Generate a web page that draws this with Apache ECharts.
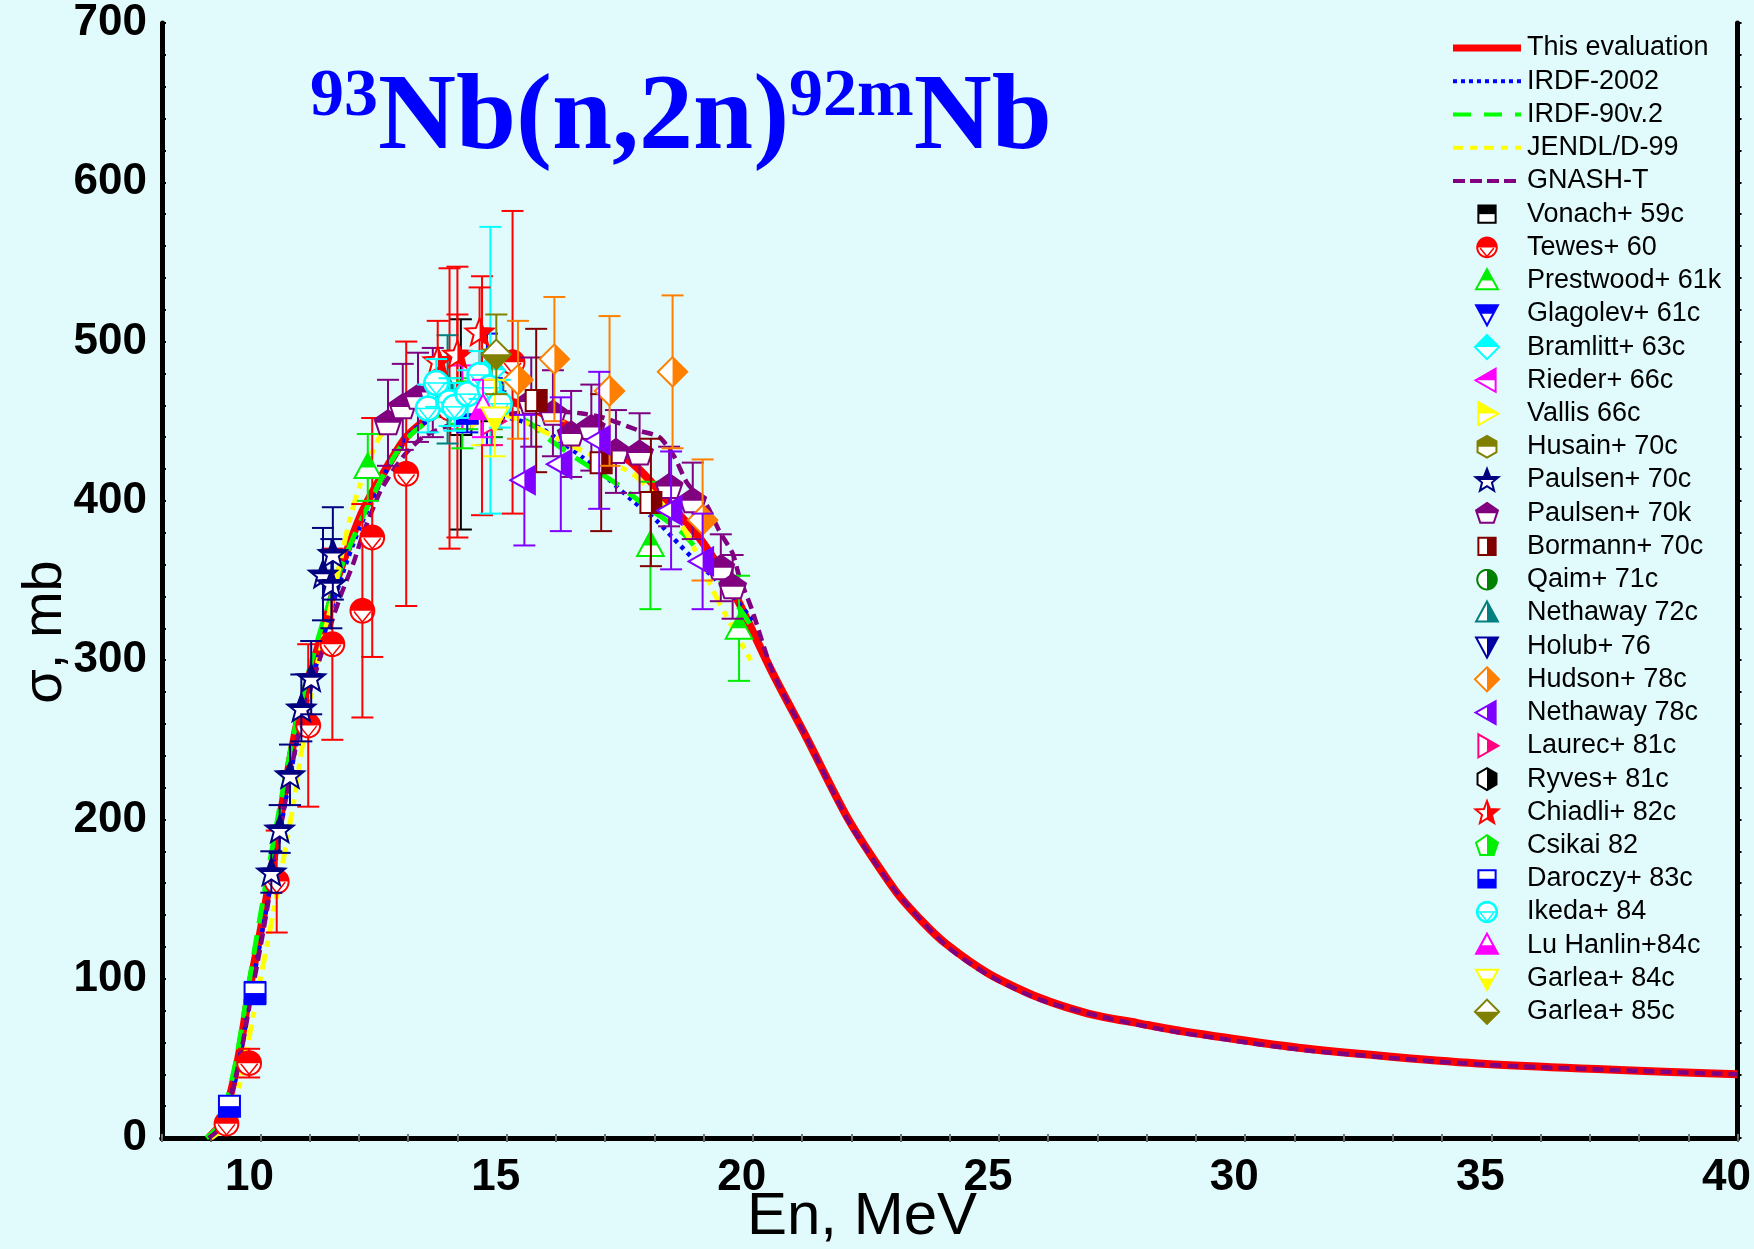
<!DOCTYPE html>
<html>
<head>
<meta charset="utf-8">
<script src="https://cdn.jsdelivr.net/npm/echarts@6/dist/echarts.min.js"></script>
<style>
  html, body { margin: 0; padding: 0; background: #e1fbfc; }
  #chart { width: 1754px; height: 1249px; }
</style>
</head>
<body>
<div id="chart"></div>
<script>
// evaluated curves: [En (MeV), sigma (mb)]
var thisEvaluation = [[8.95,0],[9.04,3],[9.21,9],[9.41,30],[9.58,55],[9.78,94],[9.99,128],[10.19,162],[10.46,212],[10.73,258],[11.0,291],[11.27,318],[11.54,349],[11.81,373],[12.08,394],[12.49,417],[12.96,440],[13.5,454],[14.0,461],[14.5,464],[15.0,463],[15.5,458],[16.0,451],[16.5,443],[17.0,434],[17.5,425],[17.93,412],[18.4,395],[18.91,377],[19.4,354],[19.72,336],[20.4,292],[21.08,252],[21.96,199],[22.9,155],[23.44,136],[23.92,122],[24.8,103],[25.82,88],[26.83,78],[27.84,72],[28.72,67],[31.27,56],[34.9,46.5],[40,40]];
var irdf2002 = [[8.95,0],[9.2,7],[9.4,26],[9.6,54],[9.8,90],[10.0,124],[10.2,158],[10.5,210],[10.8,258],[11.1,293],[11.4,328],[11.7,357],[12.0,382],[12.56,419],[13.1,444],[13.6,453],[14.2,456],[14.8,454],[15.3,450],[15.73,445],[16.07,438],[16.55,427],[17.09,413],[17.56,400],[18.03,388],[18.37,377],[18.78,364],[19.2,352],[19.6,340],[20.0,325]];
var irdf90 = [[8.9,0],[9.1,6],[9.3,22],[9.5,48],[9.7,85],[9.9,122],[10.1,158],[10.4,209],[10.7,257],[11.0,295],[11.3,327],[11.6,355],[11.9,378],[12.2,398],[12.6,422],[13.0,440],[13.5,452],[14.0,459],[14.5,460],[15.0,455],[15.47,449],[15.8,440],[16.5,425],[17.22,411],[17.9,395],[18.57,380],[19.2,356],[19.65,336],[20.0,320]];
var jendlD99 = [[9.0,0],[9.3,8],[9.55,30],[9.78,65],[10.0,100],[10.26,141],[10.66,208],[10.87,250],[11.1,290],[11.4,330],[11.88,396],[12.42,440],[13.0,458],[13.5,462],[14.0,463],[14.5,460],[15.0,454],[15.53,447],[16.5,432],[17.56,417],[18.1,400],[18.63,381],[19.25,340],[19.96,300]];
var gnashT = [[8.95,0],[9.2,7],[9.4,26],[9.6,53],[9.8,87],[10.0,120],[10.12,141],[10.4,193],[10.7,243],[11.0,280],[11.3,310],[11.6,338],[11.9,362],[12.08,379],[12.42,405],[12.69,419],[12.96,430],[13.3,440],[13.8,447],[14.5,452],[15.2,455],[16.0,456],[16.5,455],[16.99,452],[17.7,444],[18.1,440],[18.4,428],[18.67,411],[19.05,398],[19.32,381],[19.59,367],[19.72,353],[19.99,331],[20.4,293],[21.08,252],[21.96,198],[22.9,155],[23.92,121],[24.8,102],[25.82,87],[26.83,78],[27.84,71],[28.72,66],[31.27,55],[34.9,46],[40,40]];

// measurements: [En (MeV), sigma (mb), error (mb)]
var vonach59 = [[14.07,448,66]];
var tewes60 = [[9.31,9,3],[9.77,47,9],[10.33,161,32],[10.97,259,51],[11.46,310,60],[12.07,331,67],[12.27,377,75],[12.96,417,83],[13.84,458,88],[14.0,462,85],[14.5,466,75],[15.12,487,95]];
var prestwood61 = [[12.18,421,21],[14.1,455,22],[17.92,372,40],[19.72,320,33]];
var glagolev61 = [[14.6,470,35]];
var bramlitt63 = [[14.67,482,90]];
var rieder66 = [[14.1,465,20]];
var vallis66 = [[14.5,455,20]];
var husain70 = [[14.7,470,25]];
var paulsen70c = [[10.22,167,13],[10.39,194,15],[10.6,228,19],[10.83,270,21],[11.03,289,23],[11.27,354,29],[11.44,348,28],[11.47,367,29]];
var paulsen70k = [[12.59,449,27],[12.89,459,27],[13.2,465,28],[13.5,468,28],[15.5,462,28],[15.94,455,27],[16.31,442,27],[16.72,446,27],[17.22,431,26],[17.7,430,25],[18.3,409,25],[18.78,400,24],[19.35,358,21],[19.59,346,20]];
var bormann70 = [[15.6,463,45],[16.92,424,43],[17.93,399,40]];
var qaim71 = [[14.7,455,15]];
var nethaway72 = [[13.8,470,34]];
var holub76 = [[14.7,462,12]];
var hudson78 = [[15.23,476,37],[15.97,489,39],[17.09,469,47],[18.37,481,48],[18.98,388,38]];
var nethaway78 = [[15.36,413,41],[16.1,423,42],[16.88,438,43],[18.34,394,37],[18.98,362,30]];
var laurec81 = [[14.7,450,15]];
var ryves81 = [[14.7,460,10]];
var chiadli82 = [[13.6,488,25],[14.0,492,25],[14.45,506,28]];
var csikai82 = [[14.2,460,15]];
var daroczy83 = [[9.37,20,4],[9.89,91,7],[14.2,455,12],[14.7,465,12]];
var ikeda84 = [[13.4,458,15],[13.57,474,15],[13.84,462,15],[13.94,459,15],[14.21,467,15],[14.45,479,15],[14.65,471,15],[14.86,461,15]];
var luHanlin84 = [[14.52,458,18]];
var garlea84 = [[14.76,452,24]];
var garlea85 = [[14.79,492,25]];

var SANS = '"Liberation Sans", Arial, sans-serif';
var SERIF = '"Liberation Serif", "Times New Roman", serif';

var curves = [
  {name: 'This evaluation', data: thisEvaluation, color: '#ff0000', width: 8, dash: 'solid', lw: 7, ldash: null},
  {name: 'IRDF-2002', data: irdf2002, color: '#0000ff', width: 4.5, dash: [4, 5], lw: 4, ldash: [4, 4]},
  {name: 'IRDF-90v.2', data: irdf90, color: '#00ff00', width: 5, dash: [20, 12], lw: 4, ldash: [18, 13]},
  {name: 'JENDL/D-99', data: jendlD99, color: '#ffff00', width: 5, dash: [16, 7, 6, 7], lw: 4, ldash: [10, 7, 7, 7]},
  {name: 'GNASH-T', data: gnashT, color: '#800080', width: 4.5, dash: [11, 6], lw: 4, ldash: [12, 5]}
];

// shape, half that is filled, colour
var expts = [
  {name: 'Vonach+ 59c', data: vonach59, color: '#000000', shape: 'square', fill: 'top'},
  {name: 'Tewes+ 60', data: tewes60, color: '#ff0000', shape: 'circle', fill: 'top', hatch: true},
  {name: 'Prestwood+ 61k', data: prestwood61, color: '#00ee00', shape: 'up', fill: 'top'},
  {name: 'Glagolev+ 61c', data: glagolev61, color: '#0000ff', shape: 'down', fill: 'top'},
  {name: 'Bramlitt+ 63c', data: bramlitt63, color: '#00ffff', shape: 'diamond', fill: 'top'},
  {name: 'Rieder+ 66c', data: rieder66, color: '#ff00ff', shape: 'left', fill: 'top'},
  {name: 'Vallis 66c', data: vallis66, color: '#ffff00', shape: 'right', fill: 'top'},
  {name: 'Husain+ 70c', data: husain70, color: '#808000', shape: 'hexagon', fill: 'top'},
  {name: 'Paulsen+ 70c', data: paulsen70c, color: '#000080', shape: 'star', fill: 'top'},
  {name: 'Paulsen+ 70k', data: paulsen70k, color: '#800080', shape: 'pentagon', fill: 'top'},
  {name: 'Bormann+ 70c', data: bormann70, color: '#800000', shape: 'square', fill: 'right'},
  {name: 'Qaim+ 71c', data: qaim71, color: '#008000', shape: 'circle', fill: 'right'},
  {name: 'Nethaway 72c', data: nethaway72, color: '#008080', shape: 'up', fill: 'right'},
  {name: 'Holub+ 76', data: holub76, color: '#0000a0', shape: 'down', fill: 'right'},
  {name: 'Hudson+ 78c', data: hudson78, color: '#ff8000', shape: 'diamond', fill: 'right'},
  {name: 'Nethaway 78c', data: nethaway78, color: '#8000ff', shape: 'left', fill: 'right'},
  {name: 'Laurec+ 81c', data: laurec81, color: '#ff0080', shape: 'right', fill: 'right'},
  {name: 'Ryves+ 81c', data: ryves81, color: '#000000', shape: 'hexagon', fill: 'right'},
  {name: 'Chiadli+ 82c', data: chiadli82, color: '#ff0000', shape: 'star', fill: 'right'},
  {name: 'Csikai 82', data: csikai82, color: '#00ee00', shape: 'pentagon', fill: 'right'},
  {name: 'Daroczy+ 83c', data: daroczy83, color: '#0000ff', shape: 'square', fill: 'bottom'},
  {name: 'Ikeda+ 84', data: ikeda84, color: '#00ffff', shape: 'circle', fill: null, hatch: true, mid: true, bw: 2.6},
  {name: 'Lu Hanlin+84c', data: luHanlin84, color: '#ff00ff', shape: 'up', fill: 'bottom'},
  {name: 'Garlea+ 84c', data: garlea84, color: '#ffff00', shape: 'down', fill: 'bottom'},
  {name: 'Garlea+ 85c', data: garlea85, color: '#808000', shape: 'diamond', fill: 'bottom'}
];

function shapePoints(kind) {
  var p = [], i, a;
  if (kind === 'circle') {
    for (i = 0; i < 36; i++) { a = i / 36 * 2 * Math.PI; p.push([Math.cos(a) * 0.85, Math.sin(a) * 0.85]); }
  } else if (kind === 'square') p = [[-0.75,-0.75],[0.75,-0.75],[0.75,0.75],[-0.75,0.75]];
  else if (kind === 'up') p = [[0,-1],[0.95,0.75],[-0.95,0.75]];
  else if (kind === 'down') p = [[-0.95,-0.75],[0.95,-0.75],[0,1]];
  else if (kind === 'left') p = [[-1,0],[0.75,-1],[0.75,1]];
  else if (kind === 'right') p = [[1,0],[-0.75,-1],[-0.75,1]];
  else if (kind === 'diamond') p = [[0,-1.05],[1.05,0],[0,1.05],[-1.05,0]];
  else if (kind === 'hexagon') {
    for (i = 0; i < 6; i++) { a = (-90 + 60 * i) * Math.PI / 180; p.push([Math.cos(a) * 0.95, Math.sin(a) * 0.95]); }
  } else if (kind === 'pentagon') {
    for (i = 0; i < 5; i++) { a = (-90 + 72 * i) * Math.PI / 180; p.push([Math.cos(a), Math.sin(a) * 0.95 + 0.05]); }
  } else if (kind === 'star') {
    for (i = 0; i < 10; i++) { a = (-90 + 36 * i) * Math.PI / 180; var rr = i % 2 ? 0.45 : 1.05; p.push([Math.cos(a) * rr, Math.sin(a) * rr + 0.08]); }
  }
  return p;
}

// keep one half of a polygon (unit coordinates)
function clipHalf(pts, side) {
  function inside(q) { return side === 'top' ? q[1] <= 0 : side === 'bottom' ? q[1] >= 0 : q[0] >= 0; }
  function cross(a, b) {
    var t = side === 'right' ? a[0] / (a[0] - b[0]) : a[1] / (a[1] - b[1]);
    return [a[0] + (b[0] - a[0]) * t, a[1] + (b[1] - a[1]) * t];
  }
  var out = [];
  for (var i = 0; i < pts.length; i++) {
    var cur = pts[i], prev = pts[(i + pts.length - 1) % pts.length];
    var ci = inside(cur), pi = inside(prev);
    if (ci) { if (!pi) out.push(cross(prev, cur)); out.push(cur); }
    else if (pi) out.push(cross(prev, cur));
  }
  return out;
}

function markerEls(s, cx, cy, r) {
  var unit = shapePoints(s.shape);
  function px(list) { return list.map(function (q) { return [cx + q[0] * r, cy + q[1] * r]; }); }
  var els = [{type: 'polygon', shape: {points: px(unit)}, style: {fill: '#ffffff', stroke: 'none'}}];
  if (s.fill) els.push({type: 'polygon', shape: {points: px(clipHalf(unit, s.fill))}, style: {fill: s.color, stroke: 'none'}});
  if (s.hatch) els.push({type: 'polyline', shape: {points: px([[-0.6,0.05],[0,0.8],[0.6,0.05]])}, style: {stroke: s.color, lineWidth: 1.5, fill: 'none'}});
  if (s.mid) els.push({type: 'line', shape: {x1: cx - 0.85 * r, y1: cy, x2: cx + 0.85 * r, y2: cy}, style: {stroke: s.color, lineWidth: 1.5}});
  els.push({type: 'polygon', shape: {points: px(unit)}, style: {fill: 'none', stroke: s.color, lineWidth: s.bw || 2}});
  return els;
}

function expRender(s) {
  return function (params, api) {
    var x = api.value(0), y = api.value(1), e = api.value(2);
    var c = api.coord([x, y]);
    var kids = [];
    if (e > 0) {
      var t = api.coord([x, y + e])[1], b = api.coord([x, y - e])[1];
      var st = {stroke: s.color, lineWidth: 2};
      kids.push({type: 'line', shape: {x1: c[0], y1: t, x2: c[0], y2: b}, style: st});
      kids.push({type: 'line', shape: {x1: c[0] - 11, y1: t, x2: c[0] + 11, y2: t}, style: st});
      kids.push({type: 'line', shape: {x1: c[0] - 11, y1: b, x2: c[0] + 11, y2: b}, style: st});
    }
    kids = kids.concat(markerEls(s, c[0], c[1], 14));
    return {type: 'group', children: kids};
  };
}

var series = [];
curves.forEach(function (c) {
  series.push({
    type: 'line', name: c.name, data: c.data, symbol: 'none', smooth: 0.25, z: 2,
    lineStyle: {color: c.color, width: c.width, type: c.dash}
  });
});
expts.forEach(function (s) {
  series.push({type: 'custom', name: s.name, data: s.data, encode: {x: 0, y: 1}, renderItem: expRender(s), z: 3, clip: false});
});

// legend, drawn by hand to keep the half filled keys
var legendEls = [];
var LY0 = 48, LDY = 33.23;
curves.forEach(function (c, i) {
  var y = LY0 + i * LDY;
  legendEls.push({type: 'line', shape: {x1: 1453, y1: y, x2: 1521, y2: y}, style: {stroke: c.color, lineWidth: c.lw, lineDash: c.ldash}});
});
expts.forEach(function (s, j) {
  legendEls = legendEls.concat(markerEls(s, 1487, LY0 + (j + 5) * LDY, 11.5));
});
curves.concat(expts).forEach(function (s, i) {
  legendEls.push({type: 'text', x: 1527, y: LY0 + i * LDY,
    style: {text: s.name, fill: '#000', fontSize: 27, fontFamily: SANS, verticalAlign: 'middle', align: 'left'}});
});

// title with superscripts
var ctx = document.createElement('canvas').getContext('2d');
function textW(size, s) { ctx.font = 'bold ' + size + 'px ' + SERIF; return ctx.measureText(s).width; }
var titleParts = [['93', 68, 97], ['Nb(n,2n)', 108, 120], ['92m', 68, 97], ['Nb', 108, 120]];
var titleEls = [], tx = 310;
titleParts.forEach(function (p) {
  titleEls.push({type: 'text', x: tx, y: p[2],
    style: {text: p[0], fill: '#0000ff', fontSize: p[1], fontWeight: 'bold', fontFamily: SERIF, verticalAlign: 'middle', align: 'left'}});
  tx += textW(p[1], p[0]);
});

var chart = echarts.init(document.getElementById('chart'), null, {renderer: 'canvas'});
chart.setOption({
  backgroundColor: '#e1fbfc',
  animation: false,
  grid: {left: 162, right: 15, top: 23, bottom: 111},
  xAxis: [{
    type: 'value', min: 8, max: 40, interval: 1,
    axisLine: {lineStyle: {color: '#000', width: 5}},
    axisTick: {inside: false, length: 4, lineStyle: {color: '#666', width: 2}},
    axisLabel: {formatter: function (v) { return v % 5 === 0 ? String(v) : ''; },
      color: '#000', fontSize: 44, fontWeight: 'bold', fontFamily: SANS, margin: 18, padding: [0, 22, 0, 0]},
    splitLine: {show: false}
  }, {
    type: 'value', position: 'top', min: 8, max: 40, interval: 1,
    axisLine: {lineStyle: {color: '#000', width: 5}},
    axisTick: {inside: false, length: 4, lineStyle: {color: '#777', width: 2}},
    axisLabel: {show: false}, splitLine: {show: false}
  }],
  yAxis: [{
    type: 'value', min: 0, max: 700, interval: 100,
    axisLine: {show: true, lineStyle: {color: '#000', width: 5}},
    axisTick: {inside: true, length: 4, lineStyle: {color: '#000', width: 2}},
    minorTick: {show: true, splitNumber: 5, length: 4, lineStyle: {color: '#000', width: 2}},
    axisLabel: {color: '#000', fontSize: 44, fontWeight: 'bold', fontFamily: SANS, margin: 15, padding: [22, 0, 0, 0]},
    splitLine: {show: false}
  }, {
    type: 'value', position: 'right', min: 0, max: 700, interval: 100,
    axisLine: {show: true, lineStyle: {color: '#000', width: 5}},
    axisTick: {inside: false, length: 4, lineStyle: {color: '#000', width: 2}},
    minorTick: {show: true, splitNumber: 5, length: 4, lineStyle: {color: '#000', width: 2}},
    axisLabel: {show: false}, splitLine: {show: false}
  }],
  graphic: [
    {type: 'group', children: legendEls, z: 10},
    {type: 'group', children: titleEls, z: 10},
    {type: 'text', x: 862, y: 1217, style: {text: 'En, MeV', fill: '#000', fontSize: 60, fontFamily: SANS, align: 'center', verticalAlign: 'middle'}},
    {type: 'text', x: 46, y: 632, rotation: Math.PI / 2, style: {text: 'σ, mb', fill: '#000', fontSize: 56, fontFamily: SANS, align: 'center', verticalAlign: 'middle'}}
  ],
  series: series
});
</script>
</body>
</html>
